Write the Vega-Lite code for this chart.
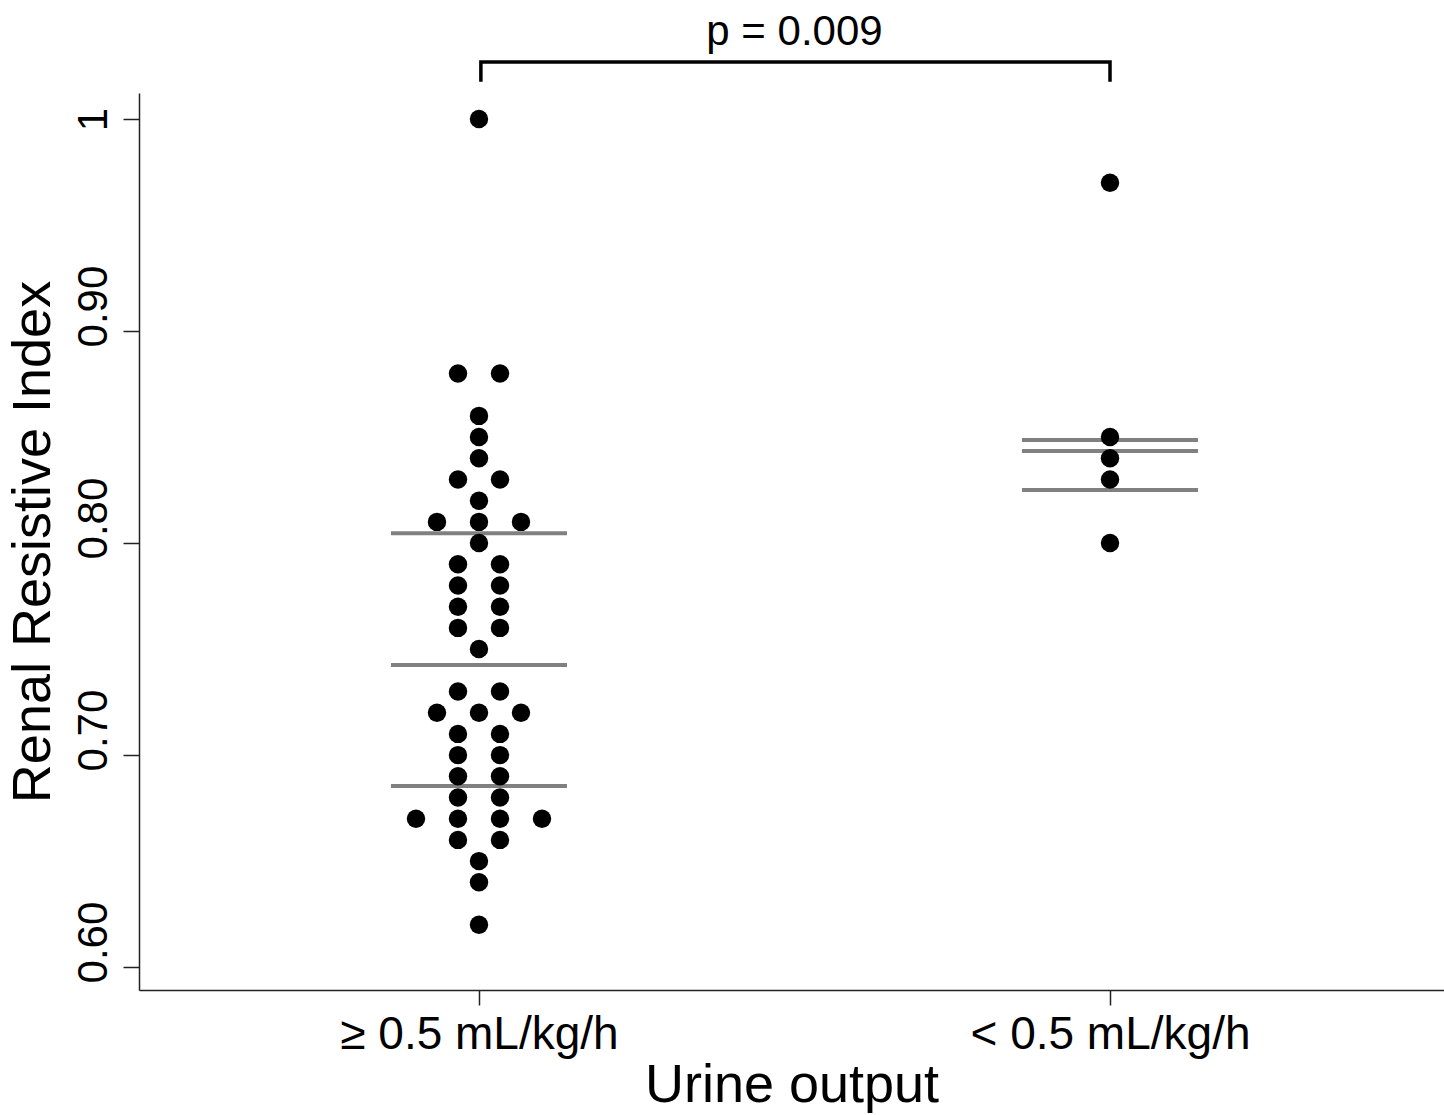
{
  "$schema": "https://vega.github.io/schema/vega-lite/v6.json",
  "width": 1305,
  "height": 897,
  "autosize": {"type": "none"},
  "padding": {"left": 139, "top": 93, "right": 0, "bottom": 125},
  "background": "white",
  "config": {
    "view": {"stroke": null},
    "font": "Liberation Sans",
    "axis": {"grid": false, "domainColor": "#222", "tickColor": "#222", "domainWidth": 1.5, "tickWidth": 1.5, "labelColor": "#000", "titleColor": "#000", "labelFont": "Liberation Sans", "titleFont": "Liberation Sans", "titleFontWeight": "normal", "labelLimit": 0}
  },
  "datasets": {
    "pts": [
      {"g": 1, "ri": 1.00},
      {"g": 1, "ri": 0.88}, {"g": 1, "ri": 0.88},
      {"g": 1, "ri": 0.86},
      {"g": 1, "ri": 0.85},
      {"g": 1, "ri": 0.84},
      {"g": 1, "ri": 0.83}, {"g": 1, "ri": 0.83},
      {"g": 1, "ri": 0.82},
      {"g": 1, "ri": 0.81}, {"g": 1, "ri": 0.81}, {"g": 1, "ri": 0.81},
      {"g": 1, "ri": 0.80},
      {"g": 1, "ri": 0.79}, {"g": 1, "ri": 0.79},
      {"g": 1, "ri": 0.78}, {"g": 1, "ri": 0.78},
      {"g": 1, "ri": 0.77}, {"g": 1, "ri": 0.77},
      {"g": 1, "ri": 0.76}, {"g": 1, "ri": 0.76},
      {"g": 1, "ri": 0.75},
      {"g": 1, "ri": 0.73}, {"g": 1, "ri": 0.73},
      {"g": 1, "ri": 0.72}, {"g": 1, "ri": 0.72}, {"g": 1, "ri": 0.72},
      {"g": 1, "ri": 0.71}, {"g": 1, "ri": 0.71},
      {"g": 1, "ri": 0.70}, {"g": 1, "ri": 0.70},
      {"g": 1, "ri": 0.69}, {"g": 1, "ri": 0.69},
      {"g": 1, "ri": 0.68}, {"g": 1, "ri": 0.68},
      {"g": 1, "ri": 0.67}, {"g": 1, "ri": 0.67}, {"g": 1, "ri": 0.67}, {"g": 1, "ri": 0.67},
      {"g": 1, "ri": 0.66}, {"g": 1, "ri": 0.66},
      {"g": 1, "ri": 0.65},
      {"g": 1, "ri": 0.64},
      {"g": 1, "ri": 0.62},
      {"g": 2, "ri": 0.97},
      {"g": 2, "ri": 0.85},
      {"g": 2, "ri": 0.84},
      {"g": 2, "ri": 0.83},
      {"g": 2, "ri": 0.80}
    ],
    "lines": [
      {"g": 1, "v": 0.8047},
      {"g": 1, "v": 0.7425},
      {"g": 1, "v": 0.6854},
      {"g": 2, "v": 0.8486},
      {"g": 2, "v": 0.8434},
      {"g": 2, "v": 0.8250}
    ],
    "bracket": [
      {"o": 1, "bx": 1.003, "by": 1.0184},
      {"o": 2, "bx": 1.003, "by": 1.0269},
      {"o": 3, "bx": 2.0, "by": 1.0269},
      {"o": 4, "bx": 2.0, "by": 1.0184}
    ],
    "note": [
      {"tx": 1.5, "ty": 1.0349, "label": "p = 0.009"}
    ]
  },
  "layer": [
    {
      "data": {"name": "lines"},
      "mark": {"type": "tick", "orient": "horizontal", "size": 176, "thickness": 4, "color": "#808080", "opacity": 1},
      "encoding": {
        "x": {
          "field": "g", "type": "quantitative",
          "scale": {"domain": [0.4612, 2.5293], "nice": false, "zero": false},
          "axis": {
            "values": [1, 2],
            "labelExpr": "datum.value == 1 ? '≥ 0.5 mL/kg/h' : '< 0.5 mL/kg/h'",
            "labelFontSize": 46,
            "labelPadding": 7,
            "tickSize": 15,
            "labelBaseline": "top",
            "labelFlush": false,
            "labelOverlap": false,
            "labelLimit": 0,
            "title": "Urine output",
            "titleFontSize": 54,
            "titlePadding": 1
          }
        },
        "y": {
          "field": "v", "type": "quantitative",
          "scale": {"domain": [0.5892, 1.0123], "nice": false, "zero": false},
          "axis": {
            "values": [0.6, 0.7, 0.8, 0.9, 1.0],
            "labelExpr": "datum.value == 1 ? '1' : format(datum.value, '.2f')",
            "labelFontSize": 42,
            "labelAngle": -90,
            "labelAlign": "center",
            "labelBaseline": "alphabetic",
            "labelPadding": 17,
            "labelOffset": {"condition": {"test": "datum.value == 1", "value": 0}, "value": -25},
            "tickSize": 16,
            "labelFlush": false,
            "labelOverlap": false,
            "labelLimit": 0,
            "title": "Renal Resistive Index",
            "titleFontSize": 54,
            "titlePadding": 12
          }
        }
      }
    },
    {
      "data": {"name": "pts"},
      "transform": [
        {"window": [{"op": "count", "as": "n"}], "groupby": ["g", "ri"], "frame": [null, null]},
        {"window": [{"op": "row_number", "as": "k"}], "groupby": ["g", "ri"]},
        {"calculate": "datum.g + (datum.k - (datum.n + 1) / 2) * 0.06656", "as": "pos"}
      ],
      "mark": {"type": "circle", "size": 340, "color": "#000", "opacity": 1},
      "encoding": {
        "x": {"field": "pos", "type": "quantitative"},
        "y": {"field": "ri", "type": "quantitative"}
      }
    },
    {
      "data": {"name": "bracket"},
      "mark": {"type": "line", "color": "#000", "strokeWidth": 3.5, "strokeCap": "square", "strokeJoin": "miter"},
      "encoding": {
        "x": {"field": "bx", "type": "quantitative"},
        "y": {"field": "by", "type": "quantitative"},
        "order": {"field": "o"}
      }
    },
    {
      "data": {"name": "note"},
      "mark": {"type": "text", "fontSize": 42, "align": "center", "baseline": "alphabetic", "color": "#000"},
      "encoding": {
        "x": {"field": "tx", "type": "quantitative"},
        "y": {"field": "ty", "type": "quantitative"},
        "text": {"field": "label"}
      }
    }
  ]
}
